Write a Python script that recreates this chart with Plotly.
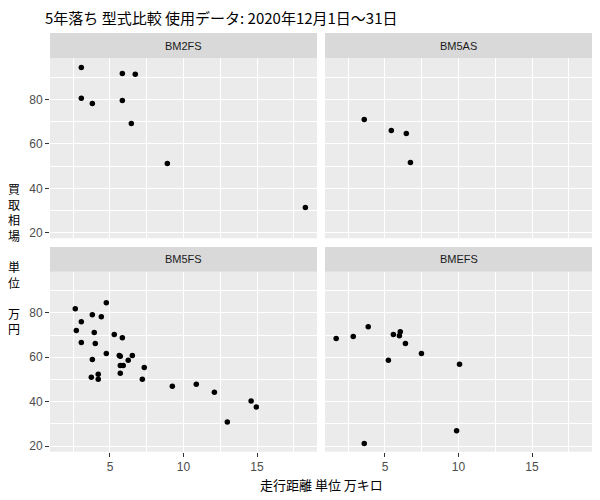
import plotly.graph_objects as go

# ---- data ----
panels = ["BM2FS", "BM5AS", "BM5FS", "BMEFS"]

bm2fs_km = [3.05, 3.05, 3.8, 5.84, 5.84, 6.72, 6.45, 8.9, 18.29]
bm2fs_price = [94.4, 80.5, 78.2, 91.7, 79.5, 91.3, 69.2, 51.2, 31.4]

bm5as_km = [3.59, 5.43, 6.45, 6.73]
bm5as_price = [71.0, 66.0, 64.7, 51.6]

bm5fs_km = [2.64, 4.75, 3.8, 4.41, 3.05, 2.71, 3.93, 3.05, 4.0, 5.29,
            5.84, 4.75, 3.8, 5.63, 5.70, 6.52, 6.24, 5.70, 5.90, 7.33,
            5.70, 3.73, 4.2, 4.2, 7.2, 9.24, 10.87, 12.1, 12.98, 14.6, 14.95]
bm5fs_price = [81.8, 84.5, 79.1, 78.2, 76.0, 72.0, 71.1, 66.6, 66.2, 70.2,
               68.8, 61.7, 59.0, 60.8, 60.4, 60.8, 58.6, 56.3, 56.3, 55.4,
               52.8, 51.0, 52.3, 50.1, 50.1, 47.0, 47.9, 44.3, 30.9, 40.3, 37.6]

bmefs_km = [1.68, 2.84, 3.86, 3.59, 5.57, 5.98, 6.04, 6.39, 5.23, 7.48, 10.07, 9.87]
bmefs_price = [68.4, 69.3, 73.75, 21.2, 70.2, 69.7, 71.5, 66.2, 58.6, 61.7, 56.8, 26.9]

series_km = [bm2fs_km, bm5as_km, bm5fs_km, bmefs_km]
series_price = [bm2fs_price, bm5as_price, bm5fs_price, bmefs_price]

title_text = "5年落ち 型式比較 使用データ: 2020年12月1日～31日"
x_title = "走行距離 単位 万キロ"
y_title = "買<br>取<br>相<br>場<br>　<br>単<br>位<br>　<br>万<br>円"

# ---- layout geometry (page body has an 8px margin) ----
OFF = 8
W, H = 600 - OFF, 500 - OFF


def px(v):
    return (v - OFF) / W


def py(v):
    return 1 - (v - OFF) / H


col_dom = [[px(50), px(317)], [px(325), px(592)]]
row_dom = [[py(238.3), py(58.3)], [py(451.7), py(271.7)]]
strip_dom = [[py(58.3), py(33)], [py(271.7), py(247)]]

FONT = "Liberation Sans, Arial, Noto Sans CJK JP, sans-serif"
CJK = "Noto Sans CJK JP, Liberation Sans, sans-serif"

fig = go.Figure()
layout = dict(
    width=W, height=H,
    margin=dict(l=0, r=0, t=0, b=0, autoexpand=False),
    paper_bgcolor="white", plot_bgcolor="#EBEBEB",
    showlegend=False,
    font=dict(family=FONT, size=12, color="#4D4D4D"),
)

shapes = []
annotations = []
for i, name in enumerate(panels):
    r, c = divmod(i, 2)
    n = i + 1
    xa = "x" if n == 1 else f"x{n}"
    ya = "y" if n == 1 else f"y{n}"
    fig.add_trace(go.Scatter(
        x=series_km[i], y=series_price[i], mode="markers",
        marker=dict(color="black", size=5.5, line=dict(width=0)),
        xaxis=xa, yaxis=ya, hoverinfo="x+y"))
    common = dict(
        showline=False, zeroline=False,
        gridcolor="white", gridwidth=1.1,
        ticks="outside", tickwidth=1, tickcolor="#333333",
        tickfont=dict(family=FONT, size=12, color="#4D4D4D"),
    )
    xkey = "xaxis" if n == 1 else f"xaxis{n}"
    ykey = "yaxis" if n == 1 else f"yaxis{n}"
    layout[xkey] = dict(
        common, domain=col_dom[c], anchor=ya, range=[0.92, 19.08],
        tick0=0, dtick=5,
        minor=dict(dtick=2.5, tick0=0, showgrid=True, gridcolor="white", gridwidth=0.5, ticks=""),
        showticklabels=(r == 1), ticklen=4 if r == 1 else 0,
    )
    layout[ykey] = dict(
        common, domain=row_dom[r], anchor=xa, range=[17.5, 98.5],
        tick0=0, dtick=20,
        minor=dict(dtick=10, tick0=0, showgrid=True, gridcolor="white", gridwidth=0.5, ticks=""),
        showticklabels=(c == 0), ticklen=4 if c == 0 else 0,
    )
    shapes.append(dict(type="rect", xref="paper", yref="paper",
                       x0=col_dom[c][0], x1=col_dom[c][1],
                       y0=strip_dom[r][0], y1=strip_dom[r][1],
                       fillcolor="#D9D9D9", line=dict(width=0), layer="below"))
    annotations.append(dict(text=name, xref="paper", yref="paper",
                            x=(col_dom[c][0] + col_dom[c][1]) / 2,
                            y=(strip_dom[r][0] + strip_dom[r][1]) / 2,
                            showarrow=False, xanchor="center", yanchor="middle",
                            font=dict(family=FONT, size=11, color="#1A1A1A")))

annotations.append(dict(text=title_text, xref="paper", yref="paper",
                        x=px(43), y=py(17), xanchor="left", yanchor="middle",
                        showarrow=False, font=dict(family=CJK, size=15, color="black")))
annotations.append(dict(text=x_title, xref="paper", yref="paper",
                        x=px(321), y=py(484), xanchor="center", yanchor="middle",
                        showarrow=False, font=dict(family=CJK, size=13, color="black")))
annotations.append(dict(text=y_title, xref="paper", yref="paper",
                        x=px(14), y=py(258), xanchor="center", yanchor="middle",
                        showarrow=False, font=dict(family=CJK, size=12, color="black")))

layout["shapes"] = shapes
layout["annotations"] = annotations
fig.update_layout(**layout)
fig.write_html("out.html")
